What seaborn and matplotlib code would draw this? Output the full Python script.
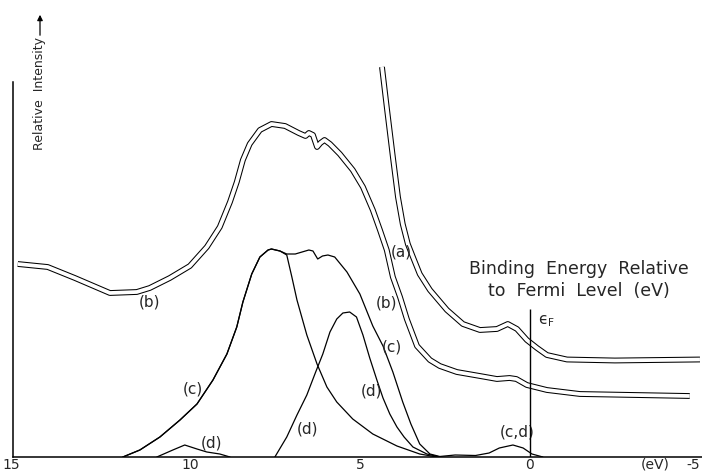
import numpy as np
import pandas as pd
import seaborn as sb
import matplotlib as mpl
import matplotlib.pyplot as plt
import matplotlib.patheffects as pe

# binding energy (eV) and relative intensity (arb. units)
a_energy = [4.35, 4.21, 4.03, 3.88, 3.74, 3.59, 3.44, 3.24, 2.94, 2.44, 1.97,
            1.47, 0.97, 0.65, 0.38, 0.09, -0.21, -0.5, -1.09, -2.5, -5.0]
a_intensity = [78, 70, 60, 52, 46.6, 42.6, 40, 36.6, 33.4, 29.4, 26.6,
               25.4, 25.6, 26.6, 25.6, 23.4, 21.8, 20.4, 19.5, 19.3, 19.5]

b_energy = [15.06, 14.18, 13.38, 12.35, 11.56, 11.18, 10.59, 10.0, 9.5, 9.12,
            8.82, 8.62, 8.44, 8.24, 7.94, 7.6, 7.2, 6.8, 6.6, 6.5, 6.38, 6.26,
            6.16, 6.04, 5.88, 5.59, 5.21, 4.91, 4.62, 4.41, 4.21, 4.03, 3.82,
            3.62, 3.32, 2.94, 2.65, 2.15, 1.47, 0.97, 0.6, 0.4, 0.09, -0.5,
            -1.47, -4.7]
b_intensity = [38.6, 38.0, 35.8, 32.8, 33.0, 33.8, 35.8, 38.2, 42, 46,
               51, 55, 59.4, 62.6, 65.4, 66.6, 66.2, 64.8, 64.2, 64.8, 64.4, 62,
               62.8, 63.4, 62.6, 60.6, 57.4, 54, 49.4, 45.4, 41.4, 36, 32,
               27.6, 22.2, 19.4, 18.2, 17.0, 16.2, 15.6, 15.8, 15.6, 14.4, 13.4,
               12.6, 12.2]

c_energy = [11.97, 11.47, 10.88, 10.29, 9.79, 9.32, 8.91, 8.62, 8.44, 8.18,
            7.94, 7.7, 7.6, 7.35, 7.15, 6.9, 6.7, 6.5, 6.38, 6.24, 6.1, 5.94,
            5.74, 5.38, 5.0, 4.62, 4.32, 4.03, 3.74, 3.5, 3.24, 2.94, 2.65,
            2.2, 1.6, 1.2, 0.9, 0.5, 0.2, -0.06, -0.38]
c_intensity = [0, 1.4, 4, 7.4, 10.6, 15.4, 20.6, 26, 31, 36.6,
               40, 41.4, 41.6, 41.2, 40.6, 40.6, 41, 41.4, 41.2, 39.6, 40.2, 40.4,
               40, 37, 32.6, 26.2, 22.2, 17, 11, 6.6, 2.6, 0.6, 0.1,
               0.4, 0.3, 0.8, 1.8, 2.4, 1.8, 0.6, 0]

# (d) components
d1_energy = [10.97, 10.5, 10.15, 9.79, 9.5, 9.12, 8.82]
d1_intensity = [0, 1.4, 2.4, 1.6, 1.0, 0.6, 0]

d2_energy = [11.97, 11.47, 10.88, 10.29, 9.79, 9.32, 8.91, 8.62, 8.44, 8.18,
             7.94, 7.7, 7.6, 7.35, 7.15, 7.0, 6.85, 6.56, 6.26, 5.97, 5.68,
             5.21, 4.62, 3.91, 3.24, 2.74]
d2_intensity = [0, 1.4, 4, 7.4, 10.6, 15.4, 20.6, 26, 31, 36.6,
                40, 41.4, 41.6, 41.2, 40.4, 36, 31.4, 24.4, 18.6, 14, 11,
                7.6, 4.6, 2.2, 0.6, 0]

d3_energy = [7.5, 7.15, 6.85, 6.56, 6.3, 6.09, 5.88, 5.68, 5.5, 5.3, 5.1,
             4.91, 4.71, 4.5, 4.32, 4.12, 3.91, 3.7, 3.44, 3.03, 2.65]
d3_intensity = [0, 4, 8.4, 12.4, 17, 20.6, 25, 27.6, 28.8, 29, 28,
                24.4, 19.8, 15.4, 11.8, 8.6, 6, 4, 2, 0.6, 0]

tick_values = [15, 10, 5, 0, -5]
tick_labels = ['15', '10', '5', '0', '-5']
fermi_level = 0.0
fermi_line_top = 29.6
axis_top = 75

sb.set_style('white')
mpl.rcParams['font.family'] = ['DejaVu Sans']
mpl.rcParams['font.size'] = 11

fig = plt.figure(figsize=(7.02, 4.75), dpi=100)
ax = fig.add_axes([13 / 702, 18 / 475, 689 / 702, 457 / 475])

# measured spectra (a) and (b) are drawn as double traces
double = [pe.Stroke(linewidth=4.2, foreground='black'), pe.Normal()]
for E, I in [(a_energy, a_intensity), (b_energy, b_intensity)]:
    sb.lineplot(x=E, y=I, ax=ax, sort=False, estimator=None, color='white',
                lw=2.7, solid_capstyle='butt', solid_joinstyle='round',
                path_effects=double, zorder=2)

for E, I in [(c_energy, c_intensity), (d1_energy, d1_intensity),
             (d2_energy, d2_intensity), (d3_energy, d3_intensity)]:
    sb.lineplot(x=E, y=I, ax=ax, sort=False, estimator=None, color='black',
                lw=0.9, solid_joinstyle='round', zorder=3)

ax.vlines(fermi_level, 0, fermi_line_top, color='black', lw=1.0, zorder=4)

ax.set_xlim(15.2, -5.06)
ax.set_ylim(0, 91.4)
for s in ['top', 'right']:
    ax.spines[s].set_visible(False)
for s in ['left', 'bottom']:
    ax.spines[s].set_linewidth(1.1)
    ax.spines[s].set_color('black')
ax.spines['left'].set_bounds(0, axis_top)

ax.set_xticks(tick_values)
ax.set_xticklabels(tick_labels)
ax.set_yticks([axis_top])
ax.set_yticklabels([])
ax.tick_params(axis='both', direction='in', length=5, width=1.0, color='black')
ax.tick_params(axis='x', pad=0.5, labelsize=10)
ax.xaxis.get_major_ticks()[0].tick1line.set_visible(False)
ax.xaxis.get_major_ticks()[3].tick1line.set_visible(False)
ax.get_xticklabels()[0].set_ha('right')
ax.get_xticklabels()[-1].set_ha('right')
ax.set_xlabel('')
ax.set_ylabel('')

ax.annotate('(eV)', xy=(-3.68, 0), xytext=(0, -0.5), textcoords='offset points',
            ha='center', va='top', fontsize=10)

# curve labels
labels = [('(a)', 3.79, 41), ('(b)', 11.18, 31), ('(b)', 4.21, 30.8),
          ('(c)', 4.06, 22), ('(c)', 9.91, 13.6), ('(d)', 9.35, 2.8),
          ('(d)', 6.53, 5.6), ('(d)', 4.65, 13.2), ('(c,d)', 0.38, 5)]
for txt, x, y in labels:
    ax.text(x, y, txt, ha='center', va='center', fontsize=11)

ax.text(-0.5, 27.2, 'ϵ$_\\mathrm{F}$', ha='center', va='center', fontsize=11)
ax.text(-1.44, 35.4, 'Binding  Energy  Relative\nto  Fermi  Level  (eV)',
        ha='center', va='center', multialignment='center', fontsize=12.5,
        linespacing=1.35)

fig.text(40 / 702, 1 - 93 / 475, 'Relative  Intensity', rotation=90,
         ha='center', va='center', fontsize=9)
ax.annotate('', xy=(40 / 702, 1 - 12 / 475), xytext=(40 / 702, 1 - 38 / 475),
            xycoords='figure fraction', textcoords='figure fraction',
            arrowprops=dict(arrowstyle='-|>', color='black', lw=0.9,
                            mutation_scale=8))

fig.savefig('out.png', dpi=100)
